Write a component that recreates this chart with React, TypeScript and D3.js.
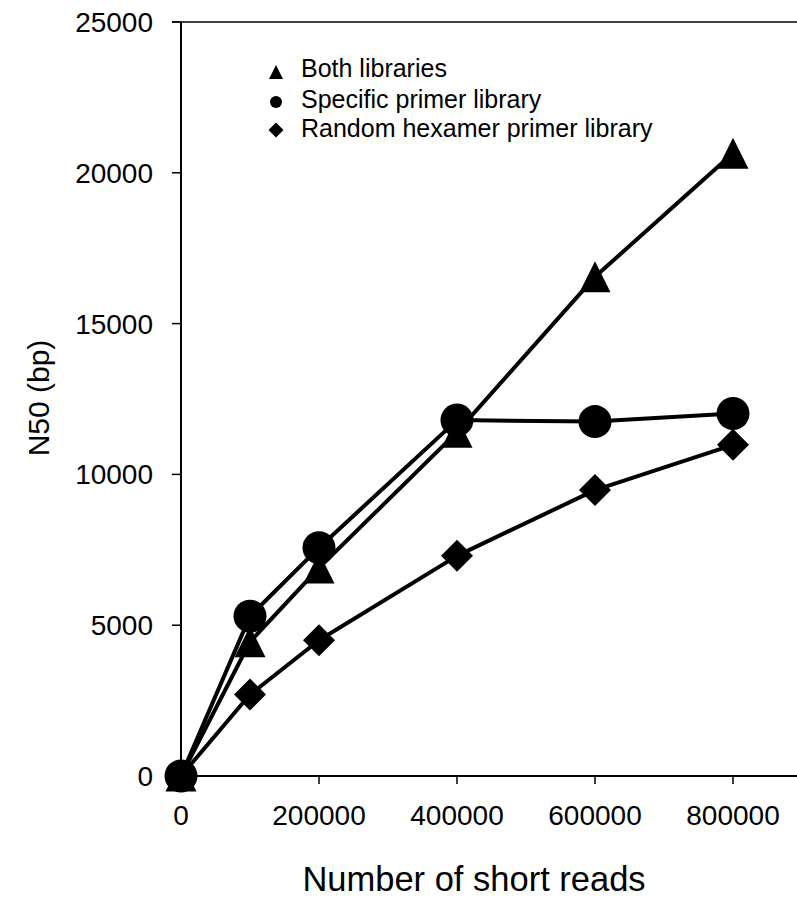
import React from "react";
import * as d3 from "d3";

const reads = [0, 100000, 200000, 400000, 600000, 800000];
const bothLibraries = [0, 4450, 6900, 11400, 16550, 20650];
const specificPrimer = [0, 5300, 7570, 11800, 11750, 12020];
const randomHexamer = [0, 2700, 4500, 7300, 9480, 10980];

const xTicks = [0, 200000, 400000, 600000, 800000];
const yTicks = [0, 5000, 10000, 15000, 20000, 25000];

const seriesNames = ["Both libraries", "Specific primer library", "Random hexamer primer library"];
const seriesShapes = ["triangle", "circle", "diamond"];

const W = 797;
const H = 898;
const font = "'Liberation Sans', Arial, sans-serif";

const x = d3.scaleLinear().domain([0, 900000]).range([181, 802]);
const y = d3.scaleLinear().domain([0, 25000]).range([776, 22]);

const line = d3
  .line<[number, number]>()
  .x((d) => x(d[0]))
  .y((d) => y(d[1]));

// marker drawn centred at cx, cy
const marker = (shape: string, cx: number, cy: number, s: number, key: string) => {
  if (shape === "circle") {
    return <circle key={key} cx={cx} cy={cy} r={s / 2} fill="#000" />;
  }
  const h = s / 2;
  if (shape === "diamond") {
    return (
      <path
        key={key}
        d={`M${cx},${cy - h}L${cx + h},${cy}L${cx},${cy + h}L${cx - h},${cy}Z`}
        fill="#000"
      />
    );
  }
  return (
    <path
      key={key}
      d={`M${cx},${cy - h}L${cx + h},${cy + h}L${cx - h},${cy + h}Z`}
      fill="#000"
    />
  );
};

const App = () => {
  const allSeries = [bothLibraries, specificPrimer, randomHexamer];
  const sizes = [31, 33, 32];
  const legendSizes = [14, 12, 15];
  const legendMarkY = [72, 102, 130];
  const legendTextY = [77, 108, 137];

  return (
    <svg
      width={W}
      height={H}
      style={{ position: "absolute", left: 0, top: 0, background: "#fff" }}
      fontFamily={font}
    >
      {/* frame: top line and axes */}
      <line x1={172} x2={W} y1={y(25000)} y2={y(25000)} stroke="#000" strokeWidth={1.5} />
      <line x1={x(0)} x2={x(0)} y1={y(25000)} y2={y(0)} stroke="#000" strokeWidth={2} />
      <line x1={x(0)} x2={W} y1={y(0)} y2={y(0)} stroke="#000" strokeWidth={2} />

      {yTicks.map((t) => (
        <g key={"y" + t}>
          <line x1={172} x2={x(0)} y1={y(t)} y2={y(t)} stroke="#000" strokeWidth={1.5} />
          <text x={153} y={y(t)} dy="0.36em" textAnchor="end" fontSize={28}>
            {t}
          </text>
        </g>
      ))}
      {xTicks.map((t) => (
        <g key={"x" + t}>
          <line x1={x(t)} x2={x(t)} y1={y(0)} y2={y(0) + 8} stroke="#000" strokeWidth={1.5} />
          <text x={x(t)} y={825} textAnchor="middle" fontSize={28}>
            {t}
          </text>
        </g>
      ))}

      <text transform={`translate(49,398) rotate(-90)`} textAnchor="middle" fontSize={30}>
        N50 (bp)
      </text>
      <text x={474} y={891} textAnchor="middle" fontSize={34.5}>
        Number of short reads
      </text>

      {allSeries.map((vals, i) => (
        <g key={"s" + i}>
          <path
            d={line(reads.map((r, j) => [r, vals[j]] as [number, number])) || ""}
            fill="none"
            stroke="#000"
            strokeWidth={4}
            strokeLinejoin="round"
          />
          {reads.map((r, j) => marker(seriesShapes[i], x(r), y(vals[j]), sizes[i], `m${i}-${j}`))}
        </g>
      ))}

      {seriesNames.map((name, i) => (
        <g key={"l" + i}>
          {marker(seriesShapes[i], 276, legendMarkY[i], legendSizes[i], "lm" + i)}
          <text x={301} y={legendTextY[i]} fontSize={25}>
            {name}
          </text>
        </g>
      ))}
    </svg>
  );
};

export default App;
